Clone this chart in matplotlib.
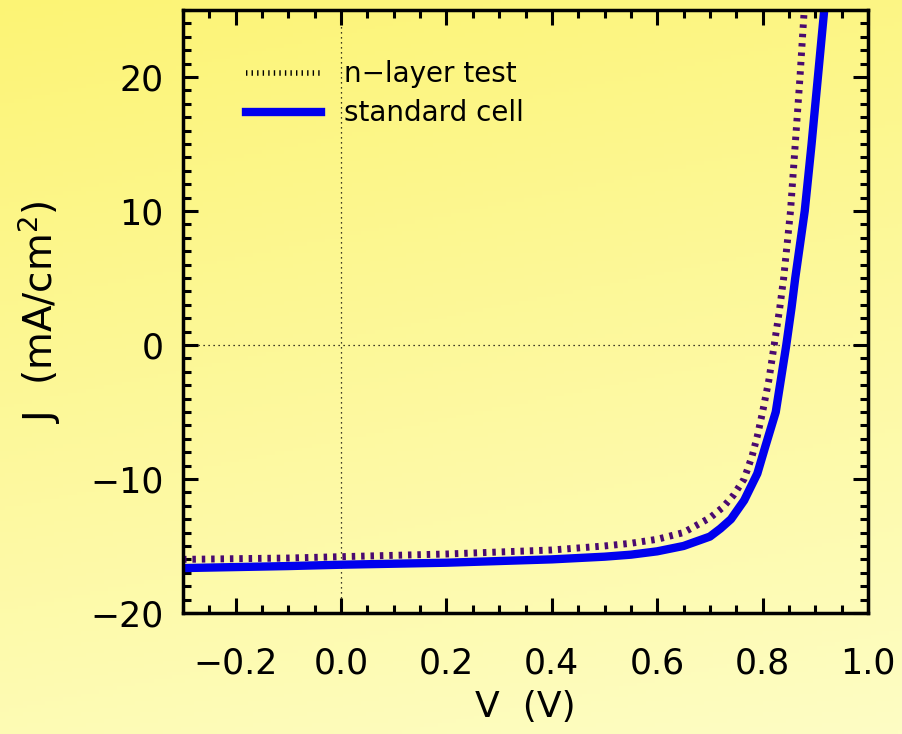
import numpy as np
import matplotlib
matplotlib.use('Agg')
import matplotlib.pyplot as plt
from matplotlib.lines import Line2D
from matplotlib.colors import to_rgb
from matplotlib.ticker import MultipleLocator

# J-V curves
v_std = [-0.3, -0.1, 0.0, 0.2, 0.4, 0.5, 0.55, 0.6, 0.65, 0.7, 0.72, 0.74, 0.765,
         0.79, 0.805, 0.825, 0.835, 0.845, 0.855, 0.862, 0.871, 0.880, 0.893, 0.905, 0.917]
j_std = [-16.65, -16.5, -16.4, -16.25, -16.0, -15.8, -15.65, -15.4, -15.0, -14.3, -13.7,
         -13.0, -11.6, -9.6, -7.6, -5.0, -2.5, 0.0, 2.8, 5.0, 7.5, 10.0, 15.0, 20.0, 25.0]

v_nl = [-0.3, -0.1, 0.0, 0.2, 0.4, 0.5, 0.55, 0.6, 0.65, 0.7, 0.725, 0.745, 0.765,
        0.78, 0.79, 0.80, 0.812, 0.822, 0.832, 0.84, 0.853, 0.862, 0.871, 0.879]
j_nl = [-16.0, -15.9, -15.8, -15.6, -15.3, -15.0, -14.8, -14.5, -14.0, -12.9, -12.1,
        -11.2, -10.0, -8.3, -6.8, -5.0, -2.6, 0.0, 2.6, 5.0, 10.0, 15.0, 20.0, 25.0]

labels = ['n\u2212layer test', 'standard cell']

fig = plt.figure(figsize=(9.03, 7.34), dpi=100)

# yellow gradient background
bg = fig.add_axes([0, 0, 1, 1], zorder=-10)
top = np.array(to_rgb('#fcf475'))
bot = np.array(to_rgb('#fefdc4'))
yy = np.linspace(0, 1, 200)[:, None]
xx = np.linspace(0, 1, 200)[None, :]
t = np.clip(0.8 * yy + 0.2 * xx, 0, 1)
img = top[None, None, :] * (1 - t[..., None]) + bot[None, None, :] * t[..., None]
bg.imshow(img, aspect='auto', extent=[0, 1, 0, 1], origin='upper')
bg.axis('off')

ax = fig.add_axes([0.2027, 0.1649, 0.7585, 0.8215])
ax.patch.set_alpha(0)

ax.axhline(0, color='black', lw=0.9, ls=(0, (1, 3)))
ax.axvline(0, color='black', lw=0.9, ls=(0, (1, 3)))

ax.plot(v_nl, j_nl, color='#4a0a70', lw=5, ls=(0, (0.5, 0.85)), dash_capstyle='butt')
ax.plot(v_std, j_std, color='#0000ee', lw=6, solid_capstyle='butt', solid_joinstyle='round')

ax.set_xlim(-0.3, 1.0)
ax.set_ylim(-20, 25)
ax.xaxis.set_minor_locator(MultipleLocator(0.05))
ax.yaxis.set_minor_locator(MultipleLocator(1))
ax.set_xticks(np.arange(-0.2, 1.01, 0.2))
ax.set_xticklabels(['\u22120.2', '0.0', '0.2', '0.4', '0.6', '0.8', '1.0'])
ax.set_yticks([-20, -10, 0, 10, 20])
ax.set_yticklabels(['\u221220', '\u221210', '0', '10', '20'])

ax.tick_params(which='both', direction='in', top=True, right=True, width=2.2,
               labelsize=25, colors='black')
ax.tick_params(which='major', length=11)
ax.tick_params(which='minor', length=6)
ax.tick_params(axis='x', pad=24)
ax.tick_params(axis='y', pad=14)
for s in ax.spines.values():
    s.set_linewidth(2.5)

ax.set_xlabel('V  (V)', fontsize=26)
ax.xaxis.set_label_coords(0.5, -0.128)
ax.set_ylabel('J  (mA/cm$^2$)', fontsize=28)
ax.yaxis.set_label_coords(-0.175, 0.5)

handles = [Line2D([], [], color='black', lw=4, ls=(0, (0.25, 0.75))),
           Line2D([], [], color='#0000ee', lw=6)]
ax.legend(handles, labels, loc='upper left', bbox_to_anchor=(0.075, 0.935), frameon=False,
          fontsize=20, handlelength=2.7, handletextpad=0.85, labelspacing=0.4,
          borderaxespad=0)

fig.savefig('out.png', dpi=100)
